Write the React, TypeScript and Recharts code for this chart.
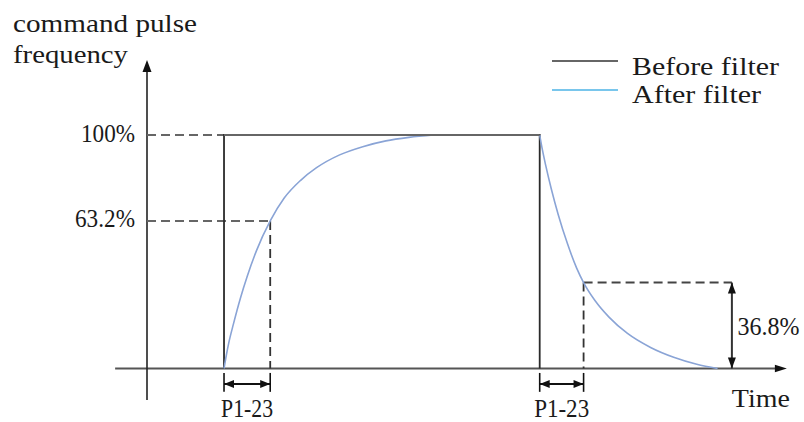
import { ComposedChart, Line, XAxis, YAxis, ReferenceLine, ReferenceDot, Legend } from 'recharts';

// time in units of the filter constant (P1-23), value in % of command frequency
const riseT = [1.667, 1.72, 1.77, 1.87, 2.02, 2.17, 2.37, 2.667, 2.97, 3.32, 3.67, 4.17, 4.67, 5.17, 5.67, 6.2];
const riseV = [0, 6, 11, 19, 30, 39.5, 50.5, 63.2, 73, 80.5, 86, 91.5, 95, 97.5, 99, 100];
const fallT = [8.5, 8.56, 8.63, 8.75, 8.9, 9.1, 9.3, 9.45, 9.7, 10.0, 10.4, 10.9, 11.4, 11.9, 12.35];
const fallV = [100, 93.5, 87, 77, 66, 53.5, 43, 36.8, 29, 22, 15, 9, 4.8, 1.8, 0];
const beforeT = [1.667, 1.667, 8.5, 8.5];
const beforeV = [0, 100, 100, 0];

const riseStart = 1.667;
const riseTau = 2.667;
const fallStart = 8.5;
const fallTau = 9.45;
const dimX = 12.66;
const levelHigh = 100;
const level63 = 63.2;
const level37 = 36.8;

const toRows = (t: number[], v: number[]) => t.map((x, i) => ({ t: x, v: v[i] }));
const riseData = toRows(riseT, riseV);
const fallData = toRows(fallT, fallV);
const beforeData = toRows(beforeT, beforeV);

const FONT = '"Liberation Serif", "Times New Roman", serif';
const TXT = '#1a1a1a';

const Arrow = ({ cx, cy, dir, len = 12, half = 4 }: any) => {
  let pts = '';
  if (dir === 'up') pts = `${cx},${cy} ${cx - half},${cy + len} ${cx + half},${cy + len}`;
  if (dir === 'down') pts = `${cx},${cy} ${cx - half},${cy - len} ${cx + half},${cy - len}`;
  if (dir === 'right') pts = `${cx},${cy} ${cx - len},${cy - half} ${cx - len},${cy + half}`;
  if (dir === 'left') pts = `${cx},${cy} ${cx + len},${cy - half} ${cx + len},${cy + half}`;
  return <polygon points={pts} fill="#111" />;
};

const Label = ({ cx, cy, text, dx = 0, dy = 0, anchor = 'start', len }: any) => (
  <text
    x={cx + dx}
    y={cy + dy}
    textAnchor={anchor}
    textLength={len}
    lengthAdjust="spacingAndGlyphs"
    style={{ fontFamily: FONT, fontSize: 25 }}
    fill={TXT}
  >
    {text}
  </text>
);

const renderLegend = () => (
  <svg width={256} height={80}>
    <line x1={4} x2={70} y1={26} y2={26} stroke="#333" strokeWidth={1.5} />
    <text x={84} y={40} textLength={147} lengthAdjust="spacingAndGlyphs" style={{ fontFamily: FONT, fontSize: 26 }} fill={TXT}>
      Before filter
    </text>
    <line x1={4} x2={70} y1={55} y2={55} stroke="#4db3e6" strokeWidth={1.5} />
    <text x={84} y={68} textLength={129} lengthAdjust="spacingAndGlyphs" style={{ fontFamily: FONT, fontSize: 26 }} fill={TXT}>
      After filter
    </text>
  </svg>
);

const dot = (x: number, y: number, shape: any, key: string) => (
  <ReferenceDot key={key} x={x} y={y} r={1} shape={shape} ifOverflow="visible" />
);

export default function App() {
  const axisStroke = '#555';
  const dash = '9 5';
  return (
    <div style={{ position: 'absolute', left: 0, top: 0, width: 804, height: 422, background: '#fff' }}>
      <svg width={300} height={80} style={{ position: 'absolute', left: 0, top: 0, pointerEvents: 'none' }}>
        <text x={13} y={32} textLength={184} lengthAdjust="spacingAndGlyphs" style={{ fontFamily: FONT, fontSize: 26 }} fill={TXT}>
          command pulse
        </text>
        <text x={13} y={63} textLength={115} lengthAdjust="spacingAndGlyphs" style={{ fontFamily: FONT, fontSize: 26 }} fill={TXT}>
          frequency
        </text>
      </svg>
      <ComposedChart width={804} height={422} margin={{ top: 53.3, right: 10.2, bottom: 6.8, left: 8.4 }}>
        <XAxis type="number" dataKey="t" domain={[-3, 14]} hide allowDataOverflow />
        <YAxis type="number" domain={[-20, 135]} hide allowDataOverflow />
        <Legend
          layout="vertical"
          align="center"
          verticalAlign="middle"
          content={renderLegend}
          wrapperStyle={{ left: 548, top: 35, width: 256, height: 80 }}
        />

        {/* axes */}
        <ReferenceLine segment={[{ x: -0.69, y: 0 }, { x: 13.7, y: 0 }]} stroke={axisStroke} strokeWidth={2.2} />
        <ReferenceLine segment={[{ x: 0, y: -13.5 }, { x: 0, y: 131 }]} stroke="#222" strokeWidth={1.6} />

        {/* dashed guides */}
        <ReferenceLine segment={[{ x: 0, y: levelHigh }, { x: riseStart, y: levelHigh }]} stroke="#666" strokeWidth={2} strokeDasharray={dash} />
        <ReferenceLine segment={[{ x: 0, y: level63 }, { x: riseTau, y: level63 }]} stroke="#666" strokeWidth={2} strokeDasharray={dash} />
        <ReferenceLine segment={[{ x: riseTau, y: level63 }, { x: riseTau, y: 0 }]} stroke="#333" strokeWidth={1.8} strokeDasharray={dash} />
        <ReferenceLine segment={[{ x: fallTau, y: level37 }, { x: dimX, y: level37 }]} stroke="#444" strokeWidth={2} strokeDasharray={dash} />
        <ReferenceLine segment={[{ x: fallTau, y: level37 }, { x: fallTau, y: 0 }]} stroke="#333" strokeWidth={1.8} strokeDasharray={dash} />

        {/* P1-23 dimension marks */}
        {[riseStart, riseTau, fallStart, fallTau].map((x) => (
          <ReferenceLine key={`tk${x}`} segment={[{ x, y: -1.9 }, { x, y: -10 }]} stroke="#111" strokeWidth={1.6} />
        ))}
        <ReferenceLine segment={[{ x: riseStart, y: -6.6 }, { x: riseTau, y: -6.6 }]} stroke="#111" strokeWidth={2} />
        <ReferenceLine segment={[{ x: fallStart, y: -6.6 }, { x: fallTau, y: -6.6 }]} stroke="#111" strokeWidth={2} />
        <ReferenceLine segment={[{ x: dimX, y: level37 }, { x: dimX, y: 0 }]} stroke="#333" strokeWidth={2} />

        <Line data={beforeData} dataKey="v" type="linear" stroke="#2a2a2a" strokeWidth={1.8} dot={false} isAnimationActive={false} />
        <Line data={riseData} dataKey="v" type="monotone" stroke="#8aa4d6" strokeWidth={1.6} dot={false} isAnimationActive={false} />
        <Line data={fallData} dataKey="v" type="monotone" stroke="#8aa4d6" strokeWidth={1.6} dot={false} isAnimationActive={false} />
        <ReferenceLine segment={[{ x: riseStart, y: levelHigh }, { x: fallStart, y: levelHigh }]} stroke="#666" strokeWidth={2.2} />

        {/* arrow heads */}
        {dot(0, 132.1, (p: any) => <Arrow {...p} dir="up" half={4.5} />, 'ay')}
        {dot(13.85, 0, (p: any) => <Arrow {...p} dir="right" half={3.8} />, 'ax')}
        {dot(riseStart, -6.6, (p: any) => <Arrow {...p} dir="left" len={10} />, 'a1')}
        {dot(riseTau, -6.6, (p: any) => <Arrow {...p} dir="right" len={10} />, 'a2')}
        {dot(fallStart, -6.6, (p: any) => <Arrow {...p} dir="left" len={10} />, 'a3')}
        {dot(fallTau, -6.6, (p: any) => <Arrow {...p} dir="right" len={10} />, 'a4')}
        {dot(dimX, level37, (p: any) => <Arrow {...p} dir="up" len={11} />, 'a5')}
        {dot(dimX, 0, (p: any) => <Arrow {...p} dir="down" len={11} />, 'a6')}

        {/* text */}
        {dot(0, levelHigh, (p: any) => <Label {...p} text="100%" dx={-12} dy={7} anchor="end" len={54} />, 't1')}
        {dot(0, level63, (p: any) => <Label {...p} text="63.2%" dx={-12} dy={6.5} anchor="end" len={60} />, 't2')}
        {dot(dimX, level37 / 2, (p: any) => <Label {...p} text="36.8%" dx={5.6} dy={9} len={62} />, 't3')}
        {dot((riseStart + riseTau) / 2, 0, (p: any) => <Label {...p} text="P1-23" dy={48.5} anchor="middle" len={52} />, 't4')}
        {dot((fallStart + fallTau) / 2, 0, (p: any) => <Label {...p} text="P1-23" dy={48.5} anchor="middle" len={55} />, 't5')}
        {dot(13.85, 0, (p: any) => <Label {...p} text="Time" dx={3} dy={38.5} anchor="end" len={58} />, 't6')}
      </ComposedChart>
    </div>
  );
}
